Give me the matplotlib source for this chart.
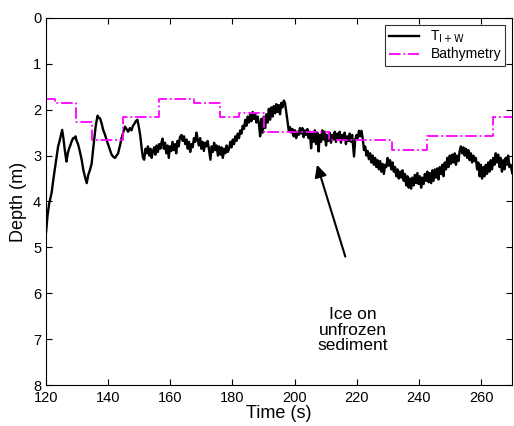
"""
ice thickness trace vs bathymetry
"""
import matplotlib.pyplot as plt

# T_{I+W} trace (time s, depth m)
trace_t = [120.0, 120.5, 121.0, 121.8, 122.4, 122.9, 123.4, 123.9, 124.4, 124.8,
           125.2, 125.6, 125.9, 126.3, 126.6, 127.0, 127.4, 127.7, 128.2, 128.7,
           129.1, 129.5, 129.8, 130.3, 130.9, 131.5, 132.0, 132.5, 133.1, 133.6,
           134.2, 134.7, 135.1, 135.5, 136.0, 136.6, 137.0, 137.4, 137.9, 138.4,
           139.0, 139.5, 140.3, 141.1, 141.7, 142.2, 142.7, 143.2, 143.8, 144.3,
           144.9, 145.4, 145.9, 146.4, 147.0, 147.5, 148.0, 148.5, 149.0, 149.4,
           149.8, 150.3, 150.8, 151.2, 151.6, 152.0, 152.4, 152.8, 153.2, 153.6,
           154.0, 154.4, 154.8, 155.2, 155.6, 156.0, 156.4, 156.8, 157.2, 157.5,
           157.9, 158.3, 158.7, 159.1, 159.5, 159.9, 160.3, 160.7, 161.1, 161.5,
           161.9, 162.3, 162.7, 163.1, 163.6, 164.0, 164.4, 164.8, 165.2, 165.6,
           166.0, 166.4, 166.8, 167.2, 167.6, 168.0, 168.4, 168.8, 169.2, 169.6,
           170.0, 170.4, 170.8, 171.2, 171.6, 172.0, 172.4, 172.9, 173.3, 173.7,
           174.1, 174.5, 174.9, 175.3, 175.7, 176.1, 176.5, 176.9, 177.3, 177.7,
           178.1, 178.5, 178.9, 179.3, 179.7, 180.1, 180.5, 180.9, 181.3, 181.7,
           182.1, 182.5, 182.9, 183.3, 183.7, 184.1, 184.5, 184.9, 185.3, 185.7,
           186.1, 186.5, 186.9, 187.3, 187.7, 188.1, 188.5, 188.9, 189.3, 189.7,
           190.1, 190.5, 190.9, 191.3, 191.7, 192.1, 192.5, 192.9, 193.3, 193.7,
           194.1, 194.5, 194.9, 195.3, 195.7, 196.1, 196.5, 196.9, 197.3, 197.7,
           198.1, 198.5, 198.9, 199.3, 199.7, 200.1, 200.5, 200.9, 201.3, 201.7,
           202.1, 202.5, 202.9, 203.3, 203.7, 204.1, 204.5, 204.9, 205.3, 205.7,
           206.1, 206.5, 206.9, 207.3, 207.7, 208.1, 208.5, 208.9, 209.3, 209.7,
           210.1, 210.5, 210.9, 211.3, 211.7, 212.1, 212.5, 212.9, 213.3, 213.7,
           214.1, 214.5, 214.9, 215.3, 215.7, 216.1, 216.5, 216.9, 217.3, 217.7,
           218.1, 218.5, 219.1, 219.5, 219.9, 220.3, 220.7, 221.1, 221.5, 221.9,
           222.3, 222.7, 223.1, 223.5, 223.9, 224.3, 224.7, 225.1, 225.5, 225.9,
           226.3, 226.7, 227.1, 227.5, 227.9, 228.3, 228.7, 229.1, 229.5, 229.9,
           230.3, 230.7, 231.1, 231.5, 231.9, 232.3, 232.7, 233.1, 233.5, 233.9,
           234.3, 234.7, 235.1, 235.5, 235.9, 236.3, 236.7, 237.1, 237.5, 237.9,
           238.3, 238.7, 239.1, 239.5, 239.9, 240.3, 240.7, 241.1, 241.5, 241.9,
           242.3, 242.7, 243.1, 243.5, 243.9, 244.3, 244.7, 245.1, 245.5, 245.9,
           246.3, 246.7, 247.1, 247.5, 247.9, 248.3, 248.7, 249.1, 249.5, 249.9,
           250.3, 250.7, 251.1, 251.5, 251.9, 252.3, 252.7, 253.1, 253.5, 253.9,
           254.3, 254.7, 255.1, 255.5, 255.9, 256.3, 256.7, 257.1, 257.5, 257.9,
           258.3, 258.7, 259.1, 259.5, 259.9, 260.3, 260.7, 261.1, 261.5, 261.9,
           262.3, 262.7, 263.1, 263.5, 263.9, 264.3, 264.7, 265.1, 265.5, 265.9,
           266.3, 266.7, 267.1, 267.5, 267.9, 268.3, 268.7, 269.1, 269.5, 270.0]
trace_d = [4.68, 4.30, 4.05, 3.81, 3.50, 3.27, 3.05, 2.80, 2.67, 2.55,
           2.44, 2.62, 2.80, 3.00, 3.13, 2.95, 2.85, 2.80, 2.70, 2.62,
           2.62, 2.58, 2.67, 2.75, 2.91, 3.10, 3.31, 3.45, 3.60, 3.42,
           3.30, 3.17, 2.90, 2.66, 2.35, 2.13, 2.18, 2.19, 2.30, 2.44,
           2.55, 2.66, 2.82, 2.98, 3.03, 3.05, 3.00, 2.95, 2.78, 2.62,
           2.48, 2.37, 2.42, 2.48, 2.40, 2.45, 2.35, 2.30, 2.24, 2.22,
           2.35, 2.55, 2.85, 3.05, 3.09, 2.85, 2.95, 2.80, 3.00, 2.85,
           3.05, 2.90, 2.82, 2.98, 2.78, 2.92, 2.75, 2.85, 2.70, 2.63,
           2.85, 2.72, 2.95, 2.78, 3.05, 2.80, 2.90, 2.70, 2.88, 2.75,
           2.95, 2.68, 2.80, 2.60, 2.55, 2.68, 2.58, 2.75, 2.65, 2.85,
           2.70, 2.92, 2.75, 2.82, 2.62, 2.70, 2.50, 2.65, 2.78, 2.62,
           2.85, 2.70, 2.90, 2.72, 2.80, 2.68, 2.85, 3.09, 2.80, 2.92,
           2.72, 2.88, 2.78, 3.00, 2.80, 2.98, 2.82, 3.05, 2.85, 2.95,
           2.78, 2.92, 2.85, 2.70, 2.82, 2.65, 2.75, 2.58, 2.68, 2.52,
           2.62, 2.45, 2.52, 2.35, 2.42, 2.22, 2.35, 2.15, 2.28, 2.10,
           2.25, 2.05, 2.20, 2.10, 2.28, 2.15, 2.30, 2.58, 2.20, 2.50,
           2.15, 2.40, 2.10, 2.28, 1.98, 2.22, 1.95, 2.15, 1.92, 2.08,
           1.88, 2.05, 1.90, 2.10, 1.85, 1.95, 1.80, 1.85, 2.05, 2.25,
           2.45, 2.38, 2.50, 2.42, 2.58, 2.45, 2.62, 2.48, 2.55, 2.40,
           2.52, 2.40, 2.60, 2.45, 2.55, 2.42, 2.62, 2.48, 2.84, 2.52,
           2.70, 2.45, 2.75, 2.50, 2.91, 2.55, 2.70, 2.45, 2.65, 2.48,
           2.78, 2.55, 2.68, 2.50, 2.72, 2.55, 2.65, 2.48, 2.70, 2.52,
           2.62, 2.48, 2.72, 2.55, 2.65, 2.50, 2.75, 2.58, 2.68, 2.52,
           2.70, 2.55, 3.02, 2.65, 2.55, 2.62, 2.46, 2.58, 2.46, 2.62,
           2.88, 2.80, 3.00, 2.90, 3.08, 2.95, 3.15, 3.00, 3.20, 3.05,
           3.25, 3.10, 3.30, 3.12, 3.35, 3.18, 3.40, 3.20, 3.25, 3.05,
           3.22, 3.10, 3.30, 3.15, 3.35, 3.25, 3.45, 3.30, 3.50, 3.35,
           3.48, 3.32, 3.55, 3.40, 3.65, 3.45, 3.70, 3.50, 3.72, 3.48,
           3.65, 3.42, 3.60, 3.38, 3.62, 3.45, 3.70, 3.48, 3.62, 3.40,
           3.55, 3.35, 3.58, 3.38, 3.60, 3.32, 3.55, 3.30, 3.48, 3.28,
           3.52, 3.25, 3.40, 3.20, 3.45, 3.15, 3.30, 3.05, 3.25, 3.00,
           3.18, 2.98, 3.15, 2.95, 3.20, 3.00, 3.12, 2.90, 2.80, 2.95,
           2.82, 3.00, 2.85, 3.05, 2.88, 3.10, 2.95, 3.15, 3.00, 3.12,
           3.05, 3.30, 3.15, 3.45, 3.20, 3.50, 3.25, 3.45, 3.20, 3.40,
           3.15, 3.35, 3.10, 3.30, 3.05, 3.20, 2.95, 3.15, 2.98, 3.25,
           3.05, 3.35, 3.10, 3.30, 3.05, 3.20, 3.00, 3.25, 3.20, 3.38]

# bathymetry steps (start time of each step, depth)
bath_t = [120, 123, 129.5, 134.7, 144.7, 156.3, 167.5, 176, 182, 190,
          210.9, 231.4, 242.7, 263.9, 270]
bath_d = [1.76, 1.85, 2.26, 2.66, 2.16, 1.77, 1.85, 2.16, 2.07, 2.48,
          2.66, 2.88, 2.57, 2.16, 2.16]

xticks = [120, 140, 160, 180, 200, 220, 240, 260]
yticks = [0, 1, 2, 3, 4, 5, 6, 7, 8]

plt.rcParams['font.family'] = ['Liberation Sans', 'DejaVu Sans']

fig = plt.figure(figsize=(5.14, 4.26), dpi=100)
ax = fig.add_axes([0.0895, 0.096, 0.907, 0.862])

ax.plot(trace_t, trace_d, color='black', lw=1.7, label=r'T$_{\mathrm{I+W}}$')
ax.step(bath_t, bath_d, where='post', color='#ff00ff', lw=1.3,
        linestyle='-.', label='Bathymetry')

ax.set_xlim(120, 270)
ax.set_ylim(8, 0)
ax.set_xticks(xticks)
ax.set_yticks(yticks)
ax.tick_params(direction='in', top=True, right=True, labelsize=10.5,
               length=4, width=0.8)
ax.tick_params(axis='x', pad=4)
for s in ax.spines.values():
    s.set_linewidth(0.8)

ax.set_xlabel('Time (s)', fontsize=13, labelpad=0)
ax.set_ylabel('Depth (m)', fontsize=13, labelpad=4)

# arrow and label
ax.annotate('', xy=(207.2, 3.2), xytext=(216.3, 5.2),
            arrowprops=dict(arrowstyle='-|>', color='black', lw=1.5,
                            mutation_scale=18, shrinkA=0, shrinkB=0))
ax.text(218.8, 6.8, 'Ice on\nunfrozen\nsediment', ha='center', va='center',
        fontsize=12.5, linespacing=1.05)

leg = ax.legend(loc='upper right', fontsize=10, frameon=True, fancybox=False,
                edgecolor='black', borderaxespad=0.5, handlelength=2.2,
                borderpad=0.3, labelspacing=0.15)
leg.get_frame().set_linewidth(0.8)

fig.savefig('out.png', dpi=100)
